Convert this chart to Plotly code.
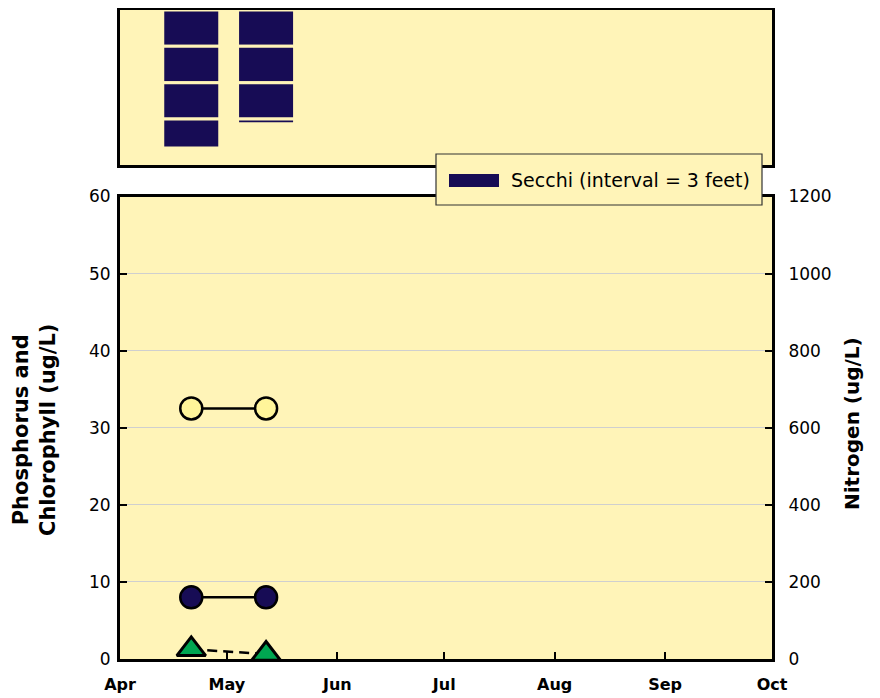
import plotly.graph_objects as go
import math

# ---------------- data ----------------
sample_dates = ["2000-04-21", "2000-05-12"]
phosphorus = [32.5, 32.5]        # ug/L (open yellow circles)
chlorophyll = [8.0, 8.0]         # ug/L (navy circles)
nitrogen = [25, 13]              # ug/L (green triangles, right axis)
secchi_ft = [11.4, 9.4]          # Secchi depth in feet
secchi_interval = 3              # feet per segment

month_ticks = ["2000-04-01", "2000-05-01", "2000-06-01", "2000-07-01",
               "2000-08-01", "2000-09-01", "2000-10-01"]
month_labels = ["Apr", "May", "Jun", "Jul", "Aug", "Sep", "Oct"]
left_ticks = [0, 10, 20, 30, 40, 50, 60]
right_ticks = [0, 200, 400, 600, 800, 1000, 1200]
legend_text = "Secchi (interval = 3 feet)"
left_title = "Phosphorus and<br>Chlorophyll (ug/L)"
right_title = "Nitrogen (ug/L)"

# ---------------- style ----------------
BG = "#FFF4B8"
NAVY = "#170C55"
GREEN = "#00A651"
YELLOW = "#FFF59A"
FONT = "DejaVu Sans"

# Secchi segments (stacked 3-ft blocks)
seg_x, seg_base, seg_h = [], [], []
for d, depth in zip(sample_dates, secchi_ft):
    n = math.ceil(depth / secchi_interval)
    for k in range(n):
        b = k * secchi_interval
        seg_x.append(d)
        seg_base.append(b)
        seg_h.append(min(secchi_interval, depth - b))

fig = go.Figure()

fig.add_trace(go.Bar(
    x=seg_x, y=seg_h, base=seg_base, xaxis="x2", yaxis="y3",
    width=16 * 86400000, marker=dict(color=NAVY, line=dict(color=BG, width=3)),
    showlegend=False, name="Secchi"))

fig.add_trace(go.Scatter(
    x=sample_dates, y=phosphorus, mode="lines+markers",
    line=dict(color="black", width=2.5),
    marker=dict(symbol="circle", size=22, color=YELLOW, line=dict(color="black", width=2.5)),
    showlegend=False, name="Phosphorus"))

fig.add_trace(go.Scatter(
    x=sample_dates, y=chlorophyll, mode="lines+markers",
    line=dict(color="black", width=2.5),
    marker=dict(symbol="circle", size=22, color=NAVY, line=dict(color="black", width=2.5)),
    showlegend=False, name="Chlorophyll"))

fig.add_trace(go.Scatter(
    x=sample_dates, y=nitrogen, mode="lines+markers", yaxis="y2",
    line=dict(color="black", width=2.5, dash="10px,6px"),
    marker=dict(symbol="triangle-up", size=25, color=GREEN, line=dict(color="black", width=3)),
    showlegend=False, name="Nitrogen"))

# ---------------- layout ----------------
# the page body adds an 8 px offset; screen coords are converted below
OFF = 8
W, H = 880 - OFF, 698 - OFF
X0, X1 = 120, 772          # plot area left/right (screen px)
Y_TOP, Y_BOT = 10, 659     # plot area top/bottom (screen px)
L = X0 - OFF
R = W - (X1 - OFF)
T = Y_TOP - OFF
B = H - (Y_BOT - OFF)
pw, ph = X1 - X0, Y_BOT - Y_TOP


def px(xp):
    return (xp - X0) / pw


def py(yp):
    return (Y_BOT - yp) / ph


bottom_top = py(196.5)
top_bottom = py(165)

xrange_ = ["2000-04-01", "2000-10-01"]

fig.update_layout(
    template="none",
    width=W, height=H,
    margin=dict(l=L, r=R, t=T, b=B, pad=0, autoexpand=False),
    paper_bgcolor="white", plot_bgcolor=BG,
    font=dict(family=FONT, color="black", size=17),
    showlegend=False,
    barmode="overlay",
    xaxis=dict(
        domain=[0, 1], anchor="y", range=xrange_, type="date",
        tickvals=month_ticks, ticktext=month_labels,
        tickfont=dict(size=16, weight="bold"),
        ticks="inside", ticklen=7, tickwidth=2, tickcolor="black",
        ticklabelstandoff=9, automargin=False,
        showline=True, linewidth=3, linecolor="black", mirror=True,
        showgrid=False, zeroline=False),
    yaxis=dict(
        domain=[0, bottom_top], anchor="x", range=[0, 60],
        tickvals=left_ticks, tickfont=dict(size=17),
        ticks="inside", ticklen=7, tickwidth=2, tickcolor="black",
        ticklabelstandoff=3, automargin=False,
        showline=True, linewidth=3, linecolor="black", mirror=True,
        showgrid=True, gridcolor="#CFCFCF", gridwidth=1, zeroline=False),
    yaxis2=dict(
        overlaying="y", side="right", anchor="x", range=[0, 1200],
        tickvals=right_ticks, tickfont=dict(size=17),
        ticks="inside", ticklen=7, tickwidth=2, tickcolor="black",
        ticklabelstandoff=10, automargin=False,
        showline=True, linewidth=3, linecolor="black",
        showgrid=False, zeroline=False),
    xaxis2=dict(
        domain=[0, 1], anchor="y3", matches="x", type="date",
        showticklabels=False, ticks="", automargin=False,
        showline=True, linewidth=3, linecolor="black", mirror=True,
        showgrid=False, zeroline=False),
    yaxis3=dict(
        domain=[top_bottom, 1], anchor="x2", range=[12.8, 0],
        showticklabels=False, ticks="", automargin=False,
        showline=True, linewidth=3, linecolor="black", mirror=True,
        showgrid=False, zeroline=False),
)

# axis titles
fig.add_annotation(text=left_title, textangle=-90, xref="paper", yref="paper",
                   x=px(34), y=py(430), xanchor="center", yanchor="middle",
                   showarrow=False, font=dict(size=21, weight="bold"))
fig.add_annotation(text=right_title, textangle=-90, xref="paper", yref="paper",
                   x=px(852), y=py(424), xanchor="center", yanchor="middle",
                   showarrow=False, font=dict(size=20, weight="bold"))

# legend box (drawn over both panel borders)
fig.add_shape(type="rect", xref="paper", yref="paper", layer="above",
              x0=px(436), x1=px(762), y0=py(205), y1=py(154),
              fillcolor=BG, line=dict(color="#333333", width=1.2))
fig.add_shape(type="rect", xref="paper", yref="paper", layer="above",
              x0=px(449), x1=px(499), y0=py(187), y1=py(174),
              fillcolor=NAVY, line=dict(width=0))
fig.add_annotation(text=legend_text, xref="paper", yref="paper",
                   x=px(509), y=py(180.5), xanchor="left", yanchor="middle",
                   showarrow=False, font=dict(size=19))

fig.write_html("out.html")
